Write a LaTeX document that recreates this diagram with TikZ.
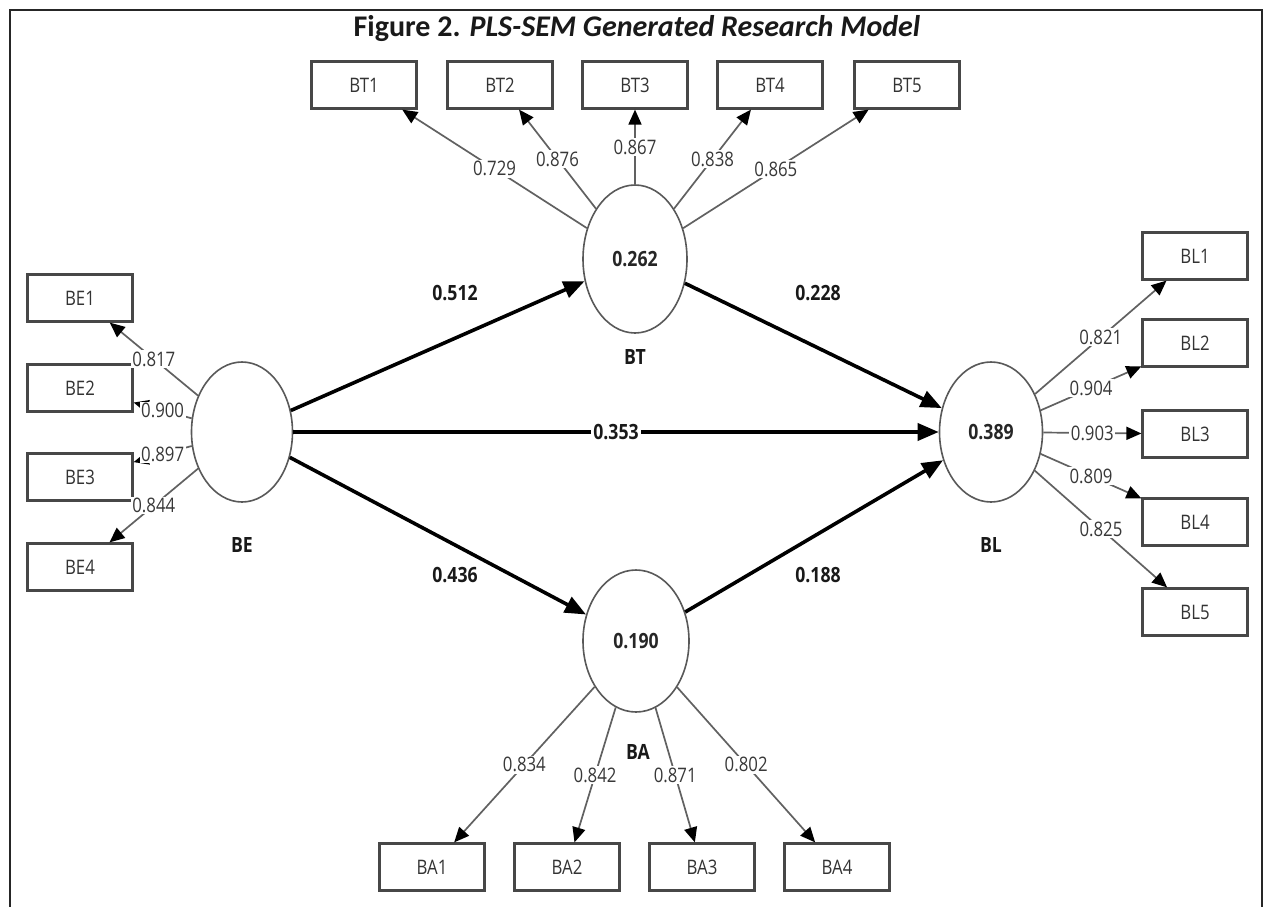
\documentclass[tikz,border=0pt]{standalone}
\usepackage{fontspec}
\usepackage{graphicx}
\setmainfont{Open Sans}
\newfontfamily\titlefont{Carlito}
\usetikzlibrary{shapes.geometric,arrows.meta}
\newcommand\nar[1]{\scalebox{0.84}[1]{#1}}
\begin{document}
\begin{tikzpicture}[x=1pt,y=-1pt,
  lv/.style={ellipse,draw=black!65,line width=1.6pt,minimum width=104pt,minimum height=142pt,inner sep=0pt,font=\bfseries\fontsize{21}{24}\selectfont,text=black!85},
  ind/.style={rectangle,draw=black!72,line width=2.2pt,minimum width=105pt,minimum height=47pt,inner sep=0pt,font=\fontsize{20}{23}\selectfont,text=black!80},
  ld/.style={draw=black!62,line width=1.7pt,-{Triangle[length=15pt,width=13pt,color=black]}},
  pth/.style={draw=black,line width=3.6pt,-{Triangle[length=21pt,width=17pt]}},
  wl/.style={fill=white,inner sep=1.5pt,font=\fontsize{20}{23}\selectfont,text=black!78},
  bl/.style={inner sep=1pt,font=\bfseries\fontsize{21}{24}\selectfont,text=black!90},
]
\useasboundingbox (0,0) rectangle (1264,907);
\fill[white] (0,0) rectangle (1264,907);
% frame
\draw[line width=2.6pt,black!85] (10,907) -- (10,10) -- (1262,10) -- (1262,907);
% title
\node[anchor=base,font=\titlefont\bfseries\fontsize{30}{34}\selectfont,text=black!90] (title) at (637,37)
  {Figure 2. \itshape PLS-SEM Generated Research Model};

% latent variables
\node[lv,minimum height=148pt] (BT) at (635,259) {\nar{0.262}};
\node[lv,minimum width=101pt,minimum height=140pt] (BE) at (242,432) {};
\node[lv,minimum width=103pt,minimum height=140pt] (BL) at (991,432) {\nar{0.389}};
\node[lv,minimum width=106pt,minimum height=142pt] (BA) at (636,641) {\nar{0.190}};

% construct names
\node[bl] (nBT) at (635,357) {\nar{BT}};
\node[bl] (nBE) at (242,545) {\nar{BE}};
\node[bl] (nBL) at (991,545) {\nar{BL}};
\node[bl] (nBA) at (638,752) {\nar{BA}};

% indicator boxes
\node[ind] (BT1) at (364,85) {\nar{BT1}};
\node[ind] (BT2) at (500,85) {\nar{BT2}};
\node[ind] (BT3) at (635,85) {\nar{BT3}};
\node[ind] (BT4) at (770,85) {\nar{BT4}};
\node[ind] (BT5) at (907,85) {\nar{BT5}};

\node[ind] (BE1) at (80,298) {\nar{BE1}};
\node[ind] (BE2) at (80,388) {\nar{BE2}};
\node[ind] (BE3) at (80,477) {\nar{BE3}};
\node[ind] (BE4) at (80,567) {\nar{BE4}};

\node[ind] (BL1) at (1195,256) {\nar{BL1}};
\node[ind] (BL2) at (1195,343) {\nar{BL2}};
\node[ind] (BL3) at (1195,434) {\nar{BL3}};
\node[ind] (BL4) at (1195,522) {\nar{BL4}};
\node[ind] (BL5) at (1195,612) {\nar{BL5}};

\node[ind] (BA1) at (432,867) {\nar{BA1}};
\node[ind] (BA2) at (567,867) {\nar{BA2}};
\node[ind] (BA3) at (702,867) {\nar{BA3}};
\node[ind] (BA4) at (837,867) {\nar{BA4}};

% loadings
\draw[ld] (BT) -- (BT1) node[midway,wl] {\nar{0.729}};
\draw[ld] (BT) -- (BT2) node[midway,wl] {\nar{0.876}};
\draw[ld] (BT) -- (BT3) node[midway,wl] {\nar{0.867}};
\draw[ld] (BT) -- (BT4) node[midway,wl] {\nar{0.838}};
\draw[ld] (BT) -- (BT5) node[midway,wl] {\nar{0.865}};

\draw[ld] (BE) -- (BE1) node[midway,wl] {\nar{0.817}};
\draw[ld] (BE) -- (BE2) node[midway,wl] {\nar{0.900}};
\draw[ld] (BE) -- (BE3) node[midway,wl] {\nar{0.897}};
\draw[ld] (BE) -- (BE4) node[midway,wl] {\nar{0.844}};

\draw[ld] (BL) -- (BL1) node[midway,wl] {\nar{0.821}};
\draw[ld] (BL) -- (BL2) node[midway,wl] {\nar{0.904}};
\draw[ld] (BL) -- (BL3) node[midway,wl] {\nar{0.903}};
\draw[ld] (BL) -- (BL4) node[midway,wl] {\nar{0.809}};
\draw[ld] (BL) -- (BL5) node[midway,wl] {\nar{0.825}};

\draw[ld] (BA) -- (BA1) node[midway,wl] {\nar{0.834}};
\draw[ld] (BA) -- (BA2) node[midway,wl] {\nar{0.842}};
\draw[ld] (BA) -- (BA3) node[midway,wl] {\nar{0.871}};
\draw[ld] (BA) -- (BA4) node[midway,wl] {\nar{0.802}};

% structural paths
\draw[pth] (BE) -- (BT);
\draw[pth] (BE) -- (BL) node[midway,bl,fill=white,inner sep=2pt] {\nar{0.353}};
\draw[pth] (BE) -- (BA);
\draw[pth] (BT) -- (BL);
\draw[pth] (BA) -- (BL);

\node[bl] (p1) at (455,293) {\nar{0.512}};
\node[bl] (p2) at (818,293) {\nar{0.228}};
\node[bl] (p3) at (455,575) {\nar{0.436}};
\node[bl] (p4) at (818,575) {\nar{0.188}};
\end{tikzpicture}
\end{document}
